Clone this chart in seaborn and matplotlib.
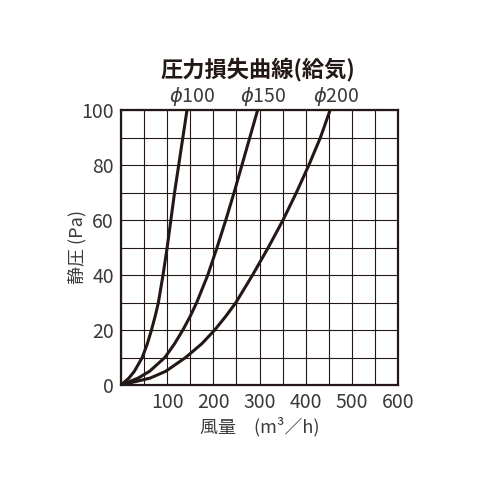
import matplotlib
matplotlib.use("Agg")
import matplotlib.pyplot as plt
import seaborn as sns
import pandas as pd

# 読み取った値 (静圧 Pa に対する風量 m3/h)
pressure = [0, 2.5, 5, 10, 15, 20, 25, 30, 40, 50, 60, 70, 80, 90, 100]
flow_100 = [0, 17, 29, 46, 57, 66, 74, 81, 91, 100, 108, 116, 125, 134, 143]
flow_150 = [0, 37, 62, 95, 116, 134, 150, 164, 188, 208, 227, 245, 262, 279, 296]
flow_200 = [0, 63, 97, 140, 175, 203, 227, 249, 285, 319, 351, 380, 407, 432, 453]
series_names = ["φ100", "φ150", "φ200"]

x_ticks = [100, 200, 300, 400, 500, 600]
y_ticks = [0, 20, 40, 60, 80, 100]

rows = []
for name, flows in zip(series_names, [flow_100, flow_150, flow_200]):
    for q, p in zip(flows, pressure):
        rows.append({"name": name, "flow": q, "pressure": p})
df = pd.DataFrame(rows)

sns.set_style("white")
plt.rcParams["font.family"] = ["Noto Sans CJK JP", "DejaVu Sans"]

ink = "#231815"
txt = "#3a3a3a"
fig = plt.figure(figsize=(5, 5), dpi=100)
ax = fig.add_axes([0.242, 0.23, 0.554, 0.55])

sns.lineplot(data=df, x="flow", y="pressure", hue="name", sort=False,
             palette=[ink] * 3, linewidth=2.2, legend=False, ax=ax)

ax.set_xlim(0, 600)
ax.set_ylim(0, 100)
ax.set_xticks(range(0, 601, 50), minor=True)
ax.set_yticks(range(0, 101, 10), minor=True)
ax.set_xticks(x_ticks)
ax.set_yticks(y_ticks)
ax.grid(True, which="both", color=ink, linewidth=0.8)
ax.set_axisbelow(True)
ax.tick_params(which="both", length=0, labelsize=14, colors=txt, pad=5)
for s in ax.spines.values():
    s.set_color(ink)
    s.set_linewidth(1.6)

# 曲線ラベル
for name, flows in zip(series_names, [flow_100, flow_150, flow_200]):
    ax.text(flows[-1] + 12, 100.6, "$\\it{\\phi}$" + name[1:], ha="center",
            va="bottom", fontsize=14, color=txt)

ax.set_xlabel("風量　(m³／h)", fontsize=13, color=txt, labelpad=3)
ax.set_ylabel("静圧 (Pa)", fontsize=13, color=txt)
ax.yaxis.set_label_coords(-0.125, 0.5)
fig.text(0.515, 0.862, "圧力損失曲線(給気)", ha="center", va="center",
         fontsize=16, fontweight="bold", color=ink)

fig.savefig("out.png", dpi=100)
